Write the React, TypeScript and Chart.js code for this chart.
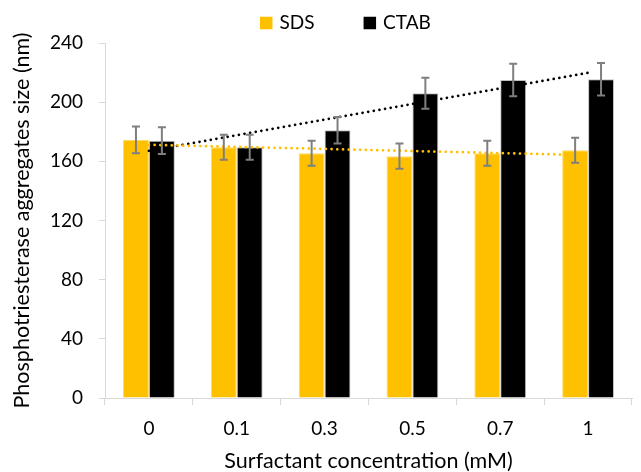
import React, { useEffect, useRef } from 'react';
import { Chart, registerables } from 'chart.js';

Chart.register(...registerables);

// ---- data ----
const categories = ['0', '0.1', '0.3', '0.5', '0.7', '1'];
const seriesNames = ['SDS', 'CTAB'];
const sdsValues = [174.5, 169.5, 165.5, 163.5, 165.5, 167.5];
const ctabValues = [174, 169.5, 181, 206, 215, 215.5];
const sdsErrors = [9, 8.5, 8.5, 8.5, 8.5, 8.5];
const ctabErrors = [9, 8.5, 9, 10.5, 11, 11];
const yTicks = [0, 40, 80, 120, 160, 200, 240];
const xTitle = 'Surfactant concentration (mM)';
const yTitle = 'Phosphotriesterase aggregates size (nm)';

// ---- styles ----
const SDS_COLOR = '#FFC000';
const CTAB_COLOR = '#000000';
const ERR_COLOR = '#7f7f7f';
const AXIS_COLOR = '#d9d9d9';
const FONT = 'Lato, "Open Sans", sans-serif';
const FONT_SIZE = 19;
const TITLE_SIZE = 21.5;

// least-squares linear trendline (Excel-style, x = 1..n)
function linearFit(values: number[]): number[] {
  const n = values.length;
  const xs = values.map((_, i) => i + 1);
  const mx = xs.reduce((a, b) => a + b, 0) / n;
  const my = values.reduce((a, b) => a + b, 0) / n;
  let num = 0;
  let den = 0;
  xs.forEach((x, i) => {
    num += (x - mx) * (values[i] - my);
    den += (x - mx) * (x - mx);
  });
  const slope = num / den;
  return xs.map((x) => my + slope * (x - mx));
}

const errorBarPlugin = {
  id: 'errorBars',
  afterDatasetsDraw(chart: any) {
    const ctx = chart.ctx;
    const yScale = chart.scales.y;
    chart.data.datasets.forEach((ds: any, di: number) => {
      const errs: number[] | undefined = ds.errors;
      if (!errs) return;
      const meta = chart.getDatasetMeta(di);
      meta.data.forEach((bar: any, i: number) => {
        const v = ds.data[i];
        const e = errs[i];
        const x = bar.x;
        const yTop = yScale.getPixelForValue(v + e);
        const yBot = yScale.getPixelForValue(v - e);
        ctx.save();
        ctx.strokeStyle = ERR_COLOR;
        ctx.lineWidth = 2;
        ctx.beginPath();
        ctx.moveTo(x, yTop);
        ctx.lineTo(x, yBot);
        ctx.moveTo(x - 4, yTop);
        ctx.lineTo(x + 4, yTop);
        ctx.moveTo(x - 4, yBot);
        ctx.lineTo(x + 4, yBot);
        ctx.stroke();
        ctx.restore();
      });
    });
  },
};

const legendItems = [
  { text: seriesNames[0], color: SDS_COLOR },
  { text: seriesNames[1], color: CTAB_COLOR },
];

const customLegendPlugin = {
  id: 'customLegend',
  afterDraw(chart: any) {
    const ctx = chart.ctx;
    ctx.save();
    ctx.font = `${FONT_SIZE}px ${FONT}`;
    ctx.textBaseline = 'middle';
    ctx.textAlign = 'left';
    let x = 260;
    const cy = 23;
    const box = 12.5;
    legendItems.forEach((item) => {
      ctx.fillStyle = item.color;
      ctx.fillRect(x, cy - box / 2, box, box);
      ctx.fillStyle = '#000';
      const tx = x + box + 7;
      ctx.fillText(item.text, tx, cy);
      x = tx + ctx.measureText(item.text).width + 49;
    });
    ctx.restore();
  },
};

export default function App() {
  const canvasRef = useRef<HTMLCanvasElement | null>(null);

  useEffect(() => {
    const canvas = canvasRef.current;
    if (!canvas) return;
    const sdsTrend = linearFit(sdsValues);
    const ctabTrend = linearFit(ctabValues);

    const chart = new Chart(canvas, {
      type: 'bar',
      data: {
        labels: categories,
        datasets: [
          {
            type: 'bar',
            label: seriesNames[0],
            data: sdsValues,
            errors: sdsErrors,
            backgroundColor: SDS_COLOR,
            borderColor: '#ffd966',
            borderWidth: 1,
            categoryPercentage: 0.59,
            barPercentage: 1.0,
            order: 1,
          } as any,
          {
            type: 'bar',
            label: seriesNames[1],
            data: ctabValues,
            errors: ctabErrors,
            backgroundColor: CTAB_COLOR,
            borderColor: '#bfbfbf',
            borderWidth: 1,
            categoryPercentage: 0.59,
            barPercentage: 1.0,
            order: 1,
          } as any,
          {
            type: 'line',
            label: 'SDS trend',
            data: sdsTrend,
            borderColor: SDS_COLOR,
            borderWidth: 2.75,
            borderDash: [0.01, 5.7],
            borderCapStyle: 'round',
            pointRadius: 0,
            fill: false,
            order: 0,
          } as any,
          {
            type: 'line',
            label: 'CTAB trend',
            data: ctabTrend,
            borderColor: CTAB_COLOR,
            borderWidth: 2.75,
            borderDash: [0.01, 5.7],
            borderCapStyle: 'round',
            pointRadius: 0,
            fill: false,
            order: 0,
          } as any,
        ],
      },
      options: {
        responsive: false,
        animation: false,
        devicePixelRatio: 1,
        layout: { padding: { top: 43, right: 9, bottom: 0, left: 0 } },
        plugins: {
          legend: { display: false },
          tooltip: { enabled: false },
        },
        scales: {
          x: {
            type: 'category',
            offset: true,
            grid: {
              display: true,
              drawOnChartArea: false,
              drawTicks: true,
              tickLength: 7,
              color: AXIS_COLOR,
              offset: true,
            },
            border: { display: true, color: AXIS_COLOR, width: 1 },
            ticks: {
              color: '#000',
              font: { family: FONT, size: FONT_SIZE },
              padding: 12,
              maxRotation: 0,
            },
            title: {
              display: true,
              text: xTitle,
              color: '#000',
              font: { family: FONT, size: TITLE_SIZE, lineHeight: 1 },
              padding: { top: 0, bottom: 0 },
            },
            afterFit(scale: any) {
              scale.height = 74;
            },
          },
          y: {
            min: yTicks[0],
            max: yTicks[yTicks.length - 1],
            afterBuildTicks(scale: any) {
              scale.ticks = yTicks.map((v) => ({ value: v }));
            },
            grid: {
              display: true,
              drawOnChartArea: false,
              drawTicks: true,
              tickLength: 6,
              color: AXIS_COLOR,
            },
            border: { display: true, color: AXIS_COLOR, width: 1 },
            ticks: {
              color: '#000',
              font: { family: FONT, size: FONT_SIZE },
              padding: 16,
            },
            title: {
              display: true,
              text: yTitle,
              color: '#000',
              font: { family: FONT, size: TITLE_SIZE, lineHeight: 1 },
              padding: { top: 11, bottom: 0 },
            },
            afterFit(scale: any) {
              scale.width = 105;
            },
          },
        },
      } as any,
      plugins: [errorBarPlugin, customLegendPlugin],
    });

    return () => {
      chart.destroy();
    };
  }, []);

  return (
    <div style={{ position: 'fixed', left: 0, top: 0, width: 641, height: 472, background: '#fff' }}>
      <canvas ref={canvasRef} width={641} height={472} style={{ display: 'block' }} />
    </div>
  );
}
